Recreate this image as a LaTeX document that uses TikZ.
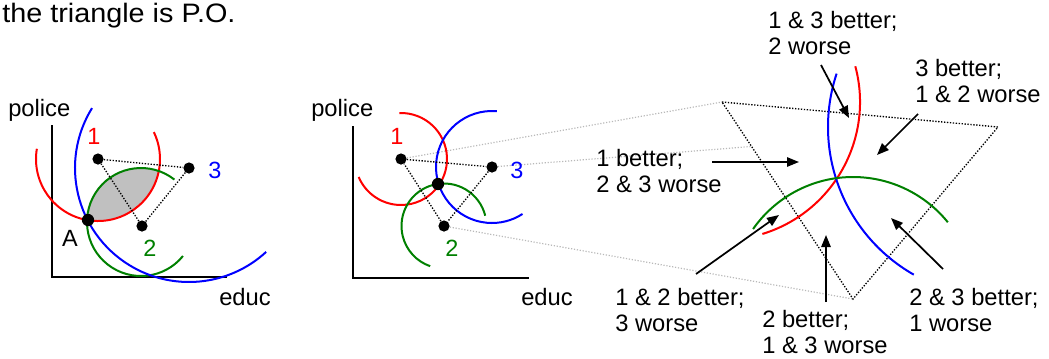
\documentclass[tikz,border=0pt]{standalone}
\usepackage{fontspec}
\setmainfont{Liberation Sans}
\usetikzlibrary{arrows.meta,calc}
\definecolor{cred}{RGB}{255,0,0}
\definecolor{cblue}{RGB}{0,0,255}
\definecolor{cgreen}{RGB}{0,128,0}
\definecolor{lensgray}{RGB}{192,192,192}
\definecolor{linkgray}{RGB}{185,185,185}
\tikzset{
  lbl/.style={font=\fontsize{17.8pt}{19.5pt}\selectfont, inner sep=0pt, anchor=base west, align=left},
  num/.style={font=\fontsize{17.6pt}{19.5pt}\selectfont, inner sep=0pt, anchor=base},
  curve/.style={line width=1.5pt},
  axis/.style={line width=1.7pt},
  dots/.style={line width=1pt, dash pattern=on 1pt off 1.2pt},
  link/.style={line width=0.9pt, dash pattern=on 0.9pt off 1.3pt, linkgray},
  dot/.style={circle, fill=black, inner sep=0pt, minimum size=8.4pt},
  bigdot/.style={circle, fill=black, inner sep=0pt, minimum size=9.2pt},
  pointer/.style={line width=1.3pt, -{Triangle[length=9pt,width=7pt]}},
}
\begin{document}
\begin{tikzpicture}[x=0.75pt,y=-0.75pt]
\useasboundingbox (0,0) rectangle (1049,358);

% title
\node[font=\fontsize{20pt}{22pt}\selectfont, inner sep=0pt, anchor=base west, xscale=1.08, transform shape] (title) at (2,22.5) {the triangle is P.O.};

% ---------------- left panel ----------------
\coordinate (Lc1) at (98,159);
\coordinate (Lc2) at (141,222);
\coordinate (Lc3) at (189,168);
\begin{scope}
  \clip (Lc1) circle[radius=62];
  \fill[lensgray] (Lc2) circle[radius=54];
\end{scope}
\coordinate (Lo) at (52,277);
\draw[axis] (52,125) coordinate (Ly) -- (Lo) -- (227,277) coordinate (Lx);
\node[lbl] (Lpolice) at (8,116) {police};
\node[lbl] (Leduc) at (219,305) {educ};

\draw[curve, cred] ($(Lc1)+(189.5:62)$) arc[start angle=189.5, end angle=-25.7, radius=62];
\draw[curve, cgreen] ($(Lc2)+(-51.8:54)$) arc[start angle=-51.8, end angle=-321, radius=54];
\draw[curve, cblue] ($(Lc3)+(211.7:114)$) arc[start angle=211.7, end angle=47.4, radius=114];

\node[dot] (L1) at (98,159) {};
\node[dot] (L2) at (142,226) {};
\node[dot] (L3) at (189,168) {};
\node[bigdot] (LA) at (88,220) {};
\draw[dots] (L1) -- (L3) -- (L2) -- (L1);

\node[num, cred] (Ln1) at (94,144) {1};
\node[num, cblue] (Ln3) at (215,178) {3};
\node[num, cgreen] (Ln2) at (150,256) {2};
\node[num] (LnA) at (70,246) {A};

% ---------------- middle panel ----------------
\coordinate (Mc1) at (401,159);
\coordinate (Mc2) at (444,226);
\coordinate (Mc3) at (492,167);
\draw[axis] (353,126) coordinate (My) -- (353,278) coordinate (Mo) -- (529,278) coordinate (Mx);
\node[lbl] (Mpolice) at (311,116) {police};
\node[lbl] (Meduc) at (521,305) {educ};

% links to magnified triangle
\coordinate (T1) at (722,102);
\coordinate (T3) at (998,127);
\coordinate (T2) at (853,299);
\draw[link] (Mc1) -- (T1);
\draw[link] (Mc3) -- (T3);
\draw[link] (Mc2) -- (T2);

\draw[curve, cred] ($(Mc1)+(-92:46)$) arc[start angle=-92, end angle=157, radius=46];
\draw[curve, cblue] ($(Mc3)+(-85:56)$) arc[start angle=-85, end angle=-303, radius=56];
\draw[curve, cgreen] ($(Mc2)+(-14:42.5)$) arc[start angle=-14, end angle=-251, radius=42.5];

\node[dot] (M1) at (Mc1) {};
\node[dot] (M2) at (Mc2) {};
\node[dot] (M3) at (Mc3) {};
\node[bigdot] (MC) at (438,184) {};
\draw[dots] (M1) -- (M3) -- (M2) -- (M1);

\node[num, cred] (Mn1) at (397,144) {1};
\node[num, cblue] (Mn3) at (517,178) {3};
\node[num, cgreen] (Mn2) at (452,256) {2};

% ---------------- right panel ----------------
\fill[white] (T1) -- (T3) -- (T2) -- cycle;
\draw[dots] (T1) -- (T3) -- (T2) -- cycle;

\draw[curve, cred] ($(T1)+(-15:138)$) arc[start angle=-15, end angle=73, radius=138];
\draw[curve, cblue] ($(T3)+(198.3:170)$) arc[start angle=198.3, end angle=119.7, radius=170];
\draw[curve, cgreen] ($(T2)+(-145:122)$) arc[start angle=-145, end angle=-39, radius=122];

% multi-line nodes: base anchor = baseline of the last line
\node[lbl] (t13) at (768,54) {1 \& 3 better;\\2 worse};
\node[lbl] (t3) at (915,102) {3 better;\\1 \& 2 worse};
\node[lbl] (t1) at (596,192) {1 better;\\2 \& 3 worse};
\node[lbl] (t12) at (615,331) {1 \& 2 better;\\3 worse};
\node[lbl] (t2) at (762,353) {2 better;\\1 \& 3 worse};
\node[lbl] (t23) at (909,331) {2 \& 3 better;\\1 worse};

\coordinate (s13) at (821,65);  \coordinate (e13) at (849,118);
\coordinate (s3) at (918,114);  \coordinate (e3) at (877,155);
\coordinate (s1) at (712,162);  \coordinate (e1) at (799,162);
\coordinate (s12) at (696,274); \coordinate (e12) at (779,215);
\coordinate (s2) at (826,302);  \coordinate (e2) at (826,235);
\coordinate (s23) at (943,269); \coordinate (e23) at (891,218);
\draw[pointer] (s13) -- (e13);
\draw[pointer] (s3) -- (e3);
\draw[pointer] (s1) -- (e1);
\draw[pointer] (s12) -- (e12);
\draw[pointer] (s2) -- (e2);
\draw[pointer] (s23) -- (e23);
\end{tikzpicture}
\end{document}
